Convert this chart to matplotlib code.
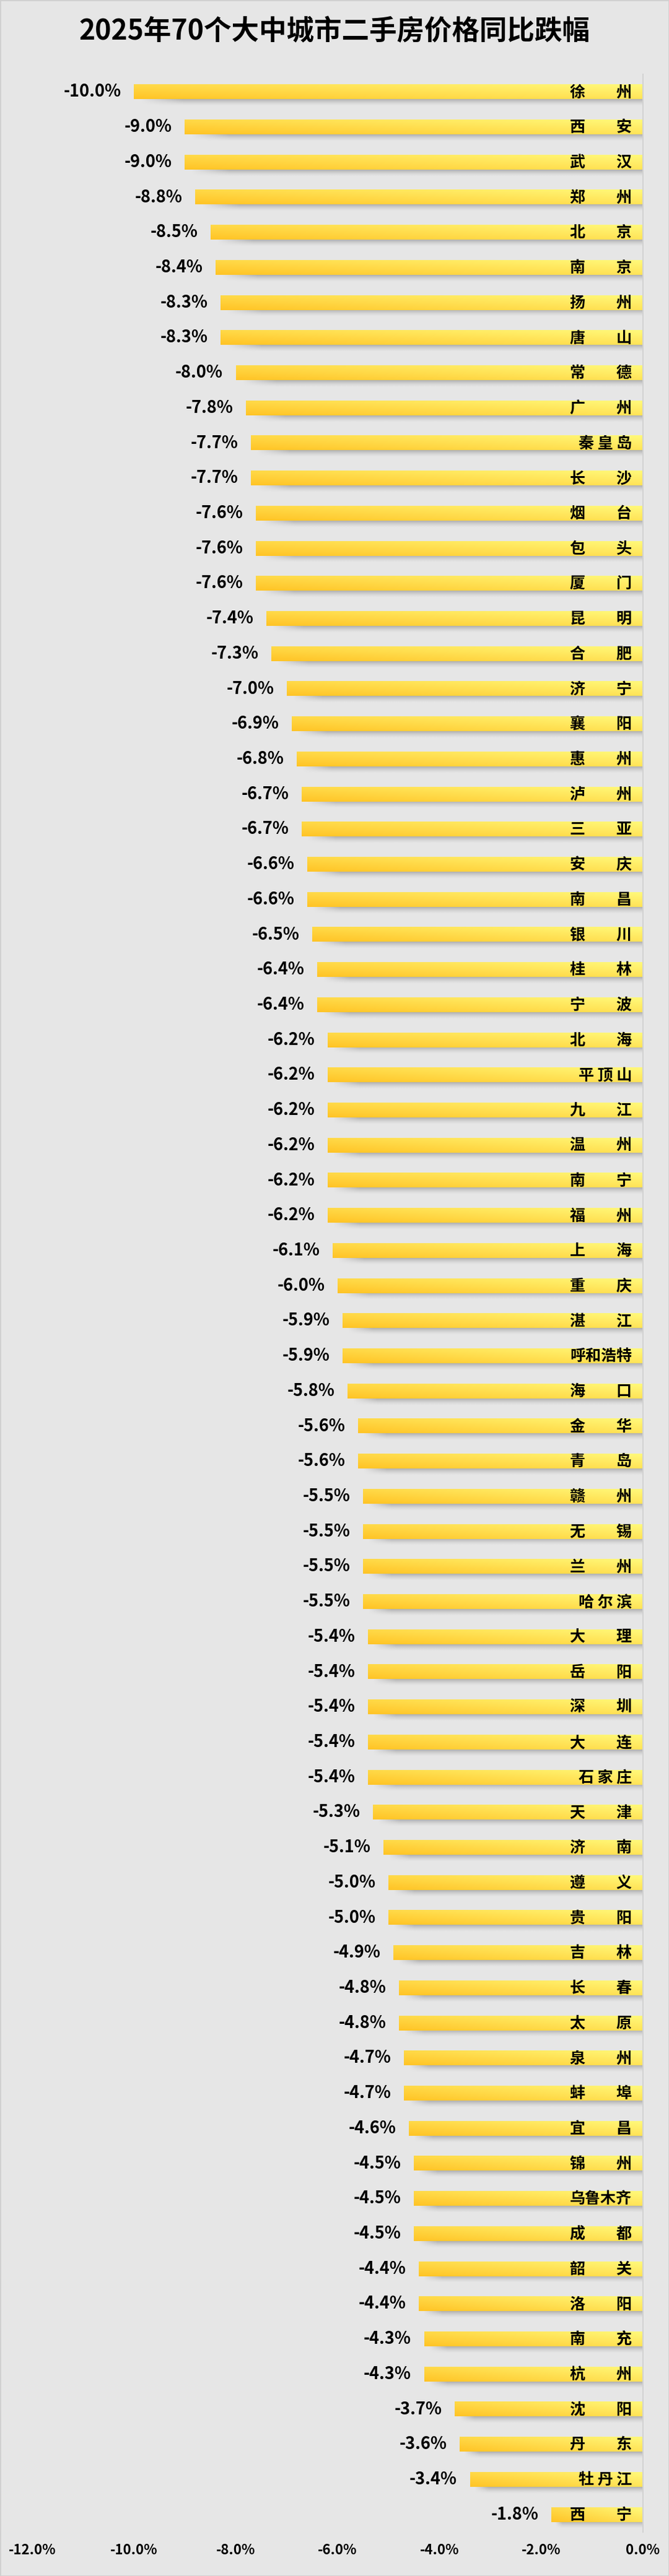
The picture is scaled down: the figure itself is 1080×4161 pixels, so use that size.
import numpy as np
import matplotlib.pyplot as plt
from matplotlib.patches import Rectangle

plt.rcParams['font.family'] = ['Noto Sans CJK SC', 'DejaVu Sans']

title = '2025年70个大中城市二手房价格同比跌幅'
cities = ['徐州', '西安', '武汉', '郑州', '北京', '南京', '扬州', '唐山', '常德', '广州',
          '秦皇岛', '长沙', '烟台', '包头', '厦门', '昆明', '合肥', '济宁', '襄阳', '惠州',
          '泸州', '三亚', '安庆', '南昌', '银川', '桂林', '宁波', '北海', '平顶山', '九江',
          '温州', '南宁', '福州', '上海', '重庆', '湛江', '呼和浩特', '海口', '金华', '青岛',
          '赣州', '无锡', '兰州', '哈尔滨', '大理', '岳阳', '深圳', '大连', '石家庄', '天津',
          '济南', '遵义', '贵阳', '吉林', '长春', '太原', '泉州', '蚌埠', '宜昌', '锦州',
          '乌鲁木齐', '成都', '韶关', '洛阳', '南充', '杭州', '沈阳', '丹东', '牡丹江', '西宁']
changes = [-10.0, -9.0, -9.0, -8.8, -8.5, -8.4, -8.3, -8.3, -8.0, -7.8,
           -7.7, -7.7, -7.6, -7.6, -7.6, -7.4, -7.3, -7.0, -6.9, -6.8,
           -6.7, -6.7, -6.6, -6.6, -6.5, -6.4, -6.4, -6.2, -6.2, -6.2,
           -6.2, -6.2, -6.2, -6.1, -6.0, -5.9, -5.9, -5.8, -5.6, -5.6,
           -5.5, -5.5, -5.5, -5.5, -5.4, -5.4, -5.4, -5.4, -5.4, -5.3,
           -5.1, -5.0, -5.0, -4.9, -4.8, -4.8, -4.7, -4.7, -4.6, -4.5,
           -4.5, -4.5, -4.4, -4.4, -4.3, -4.3, -3.7, -3.6, -3.4, -1.8]
xticks = [-12, -10, -8, -6, -4, -2, 0]

bg = '#e6e6e6'

fig = plt.figure(figsize=(10.8, 41.61), dpi=100, facecolor=bg)
ax = fig.add_axes([0.0481, 0.01706, 0.913, 0.9541])
ax.set_facecolor(bg)
n = len(cities)

bar_h = 0.42
px = 12 / 986  # x data units per pixel

# yellow gradient, light at top-right, deeper gold at bottom-left
U, V = np.meshgrid(np.linspace(0, 1, 80), np.linspace(0, 1, 16))
t = np.clip(0.6 * U + 0.4 * (1 - V), 0, 1)
dark = np.array([255, 196, 38]) / 255
light = np.array([255, 249, 122]) / 255
grad = dark + t[..., None] * (light - dark)

# soft grey shadow under each bar
s = np.linspace(0, 1, 14)
shadow = np.zeros((14, 60, 4))
shadow[..., :3] = 0.42
fade_x = np.clip(np.linspace(0, 1, 60) * 12, 0, 1)
shadow[..., 3] = (0.55 * (1 - s) ** 1.6)[:, None] * fade_x[None, :]


def spread(name):
    # names are spread out to a common width, like distributed cell text
    if len(name) == 2:
        return name[0] + '\u3000\u3000' + name[1]
    if len(name) == 3:
        return ' '.join(name)
    return name


for i, (city, v) in enumerate(zip(cities, changes)):
    top = i - bar_h / 2
    bot = i + bar_h / 2
    ax.imshow(shadow, extent=(v + 5 * px, 0, bot + 0.21, bot - 0.03),
              aspect='auto', interpolation='bilinear', zorder=1)
    ax.imshow(grad, extent=(v, 0, bot, top), aspect='auto',
              interpolation='bilinear', zorder=2)
    ax.text(v - 0.25, i, f'{v:.1f}%', ha='right', va='center',
            fontsize=19.5, fontweight='bold', zorder=3)
    ax.text(-0.22, i + 0.02, spread(city), ha='right', va='center',
            fontsize=18, fontweight='bold', zorder=3)

ax.set_xlim(-12, 0)
ax.set_ylim(n - 0.5, -0.5)
ax.set_xticks(xticks)
ax.set_xticklabels([f'{x:.1f}%' for x in xticks], fontsize=16,
                   fontweight='bold')
ax.tick_params(axis='x', length=0, pad=13)
ax.set_yticks([])
for side in ['top', 'bottom', 'left']:
    ax.spines[side].set_visible(False)
ax.spines['right'].set_color('#d2d2d2')
ax.spines['right'].set_linewidth(1.5)

fig.text(0.5, 1 - 51 / 4161, title, ha='center', va='center',
         fontsize=32, fontweight='bold')
fig.patches.append(Rectangle((0, 0), 1, 1, transform=fig.transFigure,
                             fill=False, edgecolor='#d0d0d0', linewidth=2))

fig.savefig('out.png', dpi=100, facecolor=bg)
